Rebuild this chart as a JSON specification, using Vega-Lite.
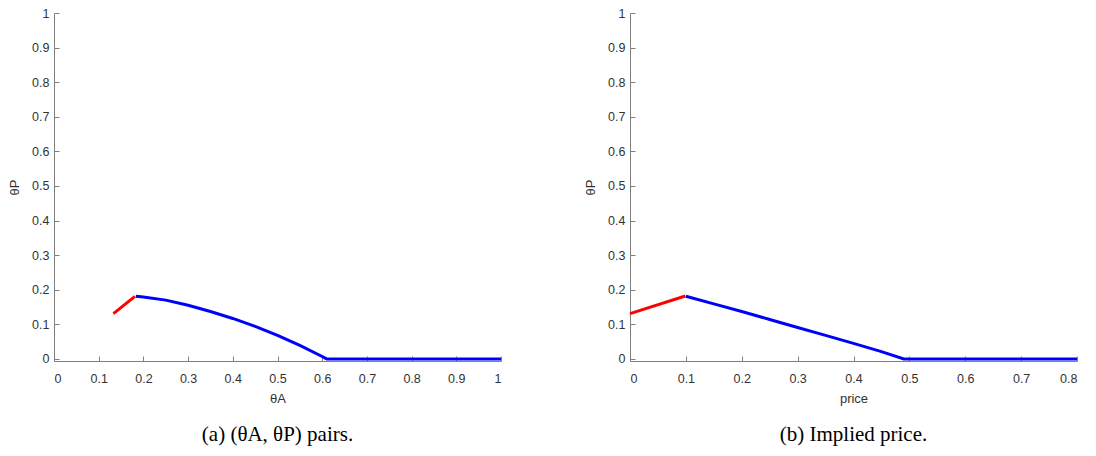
{
  "$schema": "https://vega.github.io/schema/vega-lite/v6.json",
  "background": "white",
  "padding": {"left": 8, "top": 7, "right": 5, "bottom": 5},
  "spacing": 77,
  "config": {
    "view": {"stroke": null},
    "axis": {
      "grid": false,
      "domainColor": "#808080",
      "tickColor": "#808080",
      "tickSize": -5,
      "labelFont": "Liberation Sans",
      "labelFontSize": 12.5,
      "labelColor": "#333333",
      "titleFont": "Liberation Sans",
      "titleFontSize": 13,
      "titleFontWeight": "normal",
      "titleColor": "#333333"
    },
    "axisX": {"labelPadding": 16, "titlePadding": 8},
    "axisY": {"labelPadding": 10, "titlePadding": 10},
    "title": {"font": "Liberation Serif", "fontSize": 21, "fontWeight": "normal", "color": "#000000"}
  },
  "datasets": {
    "left": [
      {"x": 0.133, "y": 0.131, "seg": "red"},
      {"x": 0.181, "y": 0.181, "seg": "red"},
      {"x": 0.183, "y": 0.181, "seg": "blue"},
      {"x": 0.2, "y": 0.179, "seg": "blue"},
      {"x": 0.25, "y": 0.17, "seg": "blue"},
      {"x": 0.3, "y": 0.155, "seg": "blue"},
      {"x": 0.35, "y": 0.137, "seg": "blue"},
      {"x": 0.4, "y": 0.117, "seg": "blue"},
      {"x": 0.45, "y": 0.094, "seg": "blue"},
      {"x": 0.5, "y": 0.068, "seg": "blue"},
      {"x": 0.55, "y": 0.039, "seg": "blue"},
      {"x": 0.6, "y": 0.007, "seg": "blue"},
      {"x": 0.61, "y": 0.0, "seg": "blue"},
      {"x": 1.0, "y": 0.0, "seg": "blue"}
    ],
    "right": [
      {"x": 0.0, "y": 0.131, "seg": "red"},
      {"x": 0.099, "y": 0.182, "seg": "red"},
      {"x": 0.1, "y": 0.181, "seg": "blue"},
      {"x": 0.15, "y": 0.159, "seg": "blue"},
      {"x": 0.2, "y": 0.137, "seg": "blue"},
      {"x": 0.25, "y": 0.114, "seg": "blue"},
      {"x": 0.3, "y": 0.091, "seg": "blue"},
      {"x": 0.35, "y": 0.068, "seg": "blue"},
      {"x": 0.4, "y": 0.045, "seg": "blue"},
      {"x": 0.45, "y": 0.021, "seg": "blue"},
      {"x": 0.49, "y": 0.0, "seg": "blue"},
      {"x": 0.8, "y": 0.0, "seg": "blue"}
    ]
  },
  "hconcat": [
    {
      "width": 447,
      "height": 348,
      "data": {"name": "left"},
      "title": {"text": "(a) (θA, θP) pairs.", "orient": "bottom", "frame": "group", "anchor": "middle", "offset": 18},
      "mark": {"type": "line", "strokeWidth": 3, "strokeCap": "butt"},
      "encoding": {
        "x": {"field": "x", "type": "quantitative", "scale": {"domain": [0, 1], "nice": false},
              "axis": {"title": "θA", "values": [0, 0.1, 0.2, 0.3, 0.4, 0.5, 0.6, 0.7, 0.8, 0.9, 1], "format": "~g"}},
        "y": {"field": "y", "type": "quantitative", "scale": {"domain": [-0.006, 1], "nice": false, "zero": false},
              "axis": {"title": "θP", "values": [0, 0.1, 0.2, 0.3, 0.4, 0.5, 0.6, 0.7, 0.8, 0.9, 1], "format": "~g"}},
        "color": {"field": "seg", "type": "nominal", "scale": {"domain": ["red", "blue"], "range": ["#ff0000", "#0000ff"]}, "legend": null},
        "order": {"field": "x", "type": "quantitative"}
      }
    },
    {
      "width": 447,
      "height": 348,
      "data": {"name": "right"},
      "title": {"text": "(b) Implied price.", "orient": "bottom", "frame": "group", "anchor": "middle", "offset": 18},
      "mark": {"type": "line", "strokeWidth": 3, "strokeCap": "butt"},
      "encoding": {
        "x": {"field": "x", "type": "quantitative", "scale": {"domain": [0, 0.8], "nice": false},
              "axis": {"title": "price", "values": [0, 0.1, 0.2, 0.3, 0.4, 0.5, 0.6, 0.7, 0.8], "format": "~g"}},
        "y": {"field": "y", "type": "quantitative", "scale": {"domain": [-0.006, 1], "nice": false, "zero": false},
              "axis": {"title": "θP", "values": [0, 0.1, 0.2, 0.3, 0.4, 0.5, 0.6, 0.7, 0.8, 0.9, 1], "format": "~g"}},
        "color": {"field": "seg", "type": "nominal", "scale": {"domain": ["red", "blue"], "range": ["#ff0000", "#0000ff"]}, "legend": null},
        "order": {"field": "x", "type": "quantitative"}
      }
    }
  ]
}
